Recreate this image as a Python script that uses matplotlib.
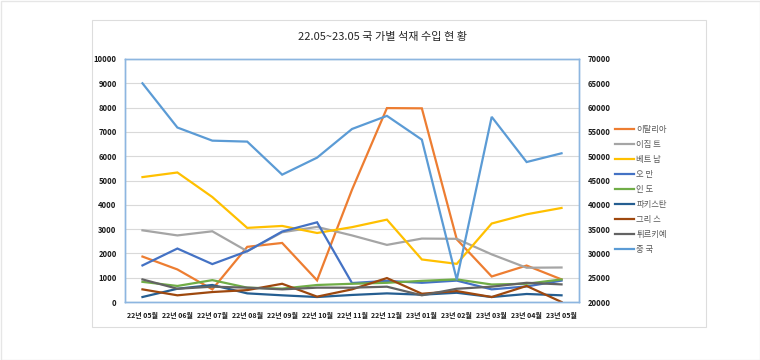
import matplotlib
matplotlib.use("Agg")
import matplotlib.pyplot as plt
from matplotlib.patches import Rectangle

plt.rcParams['font.family'] = ['Noto Sans CJK KR', 'DejaVu Sans']

months = ["22년 05월", "22년 06월", "22년 07월", "22년 08월", "22년 09월", "22년 10월",
          "22년 11월", "22년 12월", "23년 01월", "23년 02월", "23년 03월", "23년 04월", "23년 05월"]

italy    = [1870, 1340, 520, 2270, 2430, 890, 4620, 7980, 7970, 2580, 1050, 1500, 930]
egypt    = [2950, 2740, 2910, 2090, 2870, 3090, 2740, 2350, 2610, 2600, 1960, 1410, 1420]
vietnam  = [5140, 5330, 4320, 3050, 3130, 2840, 3080, 3390, 1750, 1570, 3230, 3610, 3870]
oman     = [1505, 2200, 1560, 2090, 2900, 3280, 780, 870, 790, 880, 520, 640, 880]
india    = [830, 660, 900, 590, 550, 700, 750, 790, 870, 930, 720, 750, 930]
pakistan = [205, 545, 700, 355, 275, 205, 290, 355, 300, 380, 205, 330, 275]
greece   = [520, 275, 410, 490, 750, 220, 520, 985, 340, 450, 205, 660, 0]
turkey   = [930, 545, 630, 590, 520, 590, 590, 630, 275, 545, 630, 790, 725]
china    = [65000, 55900, 53200, 53000, 46200, 49700, 55600, 58300, 53400, 24600, 58100, 48800, 50600]

primary = [
    ("이탈리아", italy, "#ED7D31"),
    ("이집 트", egypt, "#A5A5A5"),
    ("베트 남", vietnam, "#FFC000"),
    ("오 만", oman, "#4472C4"),
    ("인 도", india, "#70AD47"),
    ("파키스탄", pakistan, "#255E91"),
    ("그리 스", greece, "#9E480E"),
    ("튀르키예", turkey, "#636363"),
]
secondary = ("중 국", china, "#5B9BD5")

left_ticks = list(range(0, 10001, 1000))
right_ticks = list(range(20000, 70001, 5000))

W, H = 760, 360
fig = plt.figure(figsize=(7.6, 3.6), dpi=100)
fig.patch.set_facecolor("white")

# outer image border and chart frame
fig.patches.append(Rectangle((0.5 / W, 0.5 / H), (W - 1) / W, (H - 1) / H, transform=fig.transFigure,
                             fill=False, edgecolor="#E6E6E6", lw=1))
fig.patches.append(Rectangle((92 / W, 1 - 327 / H), (706 - 92) / W, (327 - 20) / H,
                             transform=fig.transFigure, fill=False, edgecolor="#DDDDDD", lw=0.8))

ax = fig.add_axes([125 / W, 1 - 302 / H, (579 - 125) / W, (302 - 59) / H])
ax2 = ax.twinx()

x = list(range(len(months)))
handles = []
for name, vals, col in primary:
    h, = ax.plot(x, vals, color=col, lw=1.6, label=name, solid_joinstyle="miter")
    handles.append(h)
name, vals, col = secondary
h, = ax2.plot(x, vals, color=col, lw=1.6, label=name, solid_joinstyle="miter")
handles.append(h)

ax.set_xlim(-0.5, len(months) - 0.5)
ax.set_ylim(0, 10000)
ax2.set_ylim(20000, 70000)
ax.set_yticks(left_ticks)
ax2.set_yticks(right_ticks)
ax.set_xticks(x)
ax.set_xticklabels(months)

ax.grid(axis="y", color="#D9D9D9", lw=0.8)
ax.set_axisbelow(True)

for a in (ax, ax2):
    for s in a.spines.values():
        s.set_color("#8DB6E0")
        s.set_linewidth(1.0)

ax.tick_params(axis="both", length=0)
ax2.tick_params(axis="both", length=0)
ax.tick_params(axis="y", pad=6, labelsize=5.5)
ax2.tick_params(axis="y", pad=6, labelsize=5.5)
ax.tick_params(axis="x", pad=7, labelsize=5)
for lab in ax.get_yticklabels() + ax2.get_yticklabels() + ax.get_xticklabels():
    lab.set_fontweight("bold")
    lab.set_color("#1A1A1A")

fig.text(383 / W, 1 - 37 / H, "22.05~23.05 국 가별 석재 수입 현 황", ha="center", va="center",
         fontsize=8, color="#262626")

leg = fig.legend(handles=handles, loc="upper left", bbox_to_anchor=(615 / W, 1 - 125 / H),
                 frameon=False, fontsize=6, handlelength=2.3, handletextpad=0.25,
                 labelspacing=0.72, borderaxespad=0, borderpad=0)
for t in leg.get_texts():
    t.set_color("#595959")

fig.savefig("out.png", dpi=100, facecolor="white")
